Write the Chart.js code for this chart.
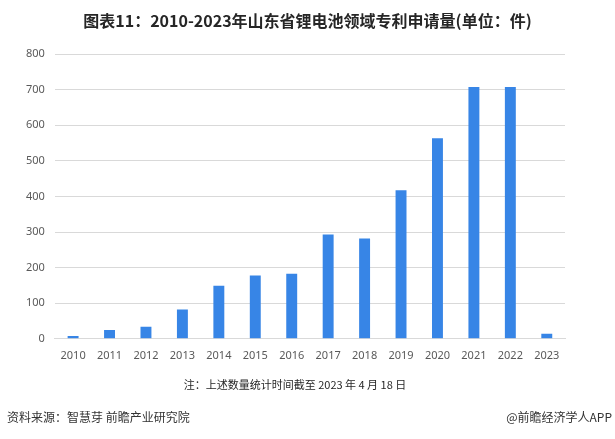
<!DOCTYPE html>
<html lang="zh">
<head>
    <meta charset="UTF-8">
    <title>山东省锂电池领域专利申请量</title>
    <script src="https://cdn.jsdelivr.net/npm/chart.js"></script>
    <style>
        body {
            margin: 0;
            background: white;
            font-family: "Noto Sans CJK SC", sans-serif;
        }
        .wrap {
            position: relative;
            width: 615px;
            height: 439px;
            overflow: hidden;
        }
        .title {
            position: absolute;
            top: 8px;
            left: 0;
            width: 615px;
            text-align: center;
            font-size: 16px;
            font-weight: bold;
            color: #262626;
        }
        .note {
            position: absolute;
            top: 376px;
            left: 0;
            width: 590px;
            text-align: center;
            font-size: 11px;
            color: #262626;
        }
        .source {
            position: absolute;
            top: 408px;
            left: 7px;
            font-size: 12px;
            color: #333;
        }
        .brand {
            position: absolute;
            top: 408px;
            right: 3px;
            font-size: 12px;
            color: #333;
        }
        #chartBox {
            position: absolute;
            top: 0;
            left: 0;
            width: 615px;
            height: 439px;
        }
    </style>
</head>
<body>
    <div class="wrap">
        <div id="chartBox"><canvas id="patentChart"></canvas></div>
        <div class="title">图表11：2010-2023年山东省锂电池领域专利申请量(单位：件)</div>
        <div class="note">注：上述数量统计时间截至 2023 年 4 月 18 日</div>
        <div class="source">资料来源：智慧芽 前瞻产业研究院</div>
        <div class="brand">@前瞻经济学人APP</div>
    </div>
    <script>
        const years = ["2010", "2011", "2012", "2013", "2014", "2015", "2016",
                       "2017", "2018", "2019", "2020", "2021", "2022", "2023"];
        const patents = [8, 25, 34, 82, 149, 178, 183, 293, 282, 417, 563, 707, 707, 14];

        new Chart(document.getElementById("patentChart"), {
            type: "bar",
            data: {
                labels: years,
                datasets: [{
                    data: patents,
                    backgroundColor: "#3785e6",
                    barPercentage: 0.3,
                    categoryPercentage: 1
                }]
            },
            options: {
                responsive: true,
                maintainAspectRatio: false,
                animation: false,
                layout: { padding: { top: 54, bottom: 75, left: 16, right: 50 } },
                plugins: { legend: { display: false }, tooltip: { enabled: false } },
                scales: {
                    x: {
                        grid: { display: false },
                        border: { color: "#d9d9d9" },
                        ticks: { color: "#595959", font: { size: 11, family: "Noto Sans" }, padding: 2 }
                    },
                    y: {
                        min: 0,
                        max: 800,
                        ticks: { stepSize: 100, color: "#595959", font: { size: 11, family: "Noto Sans" }, padding: 10 },
                        grid: { color: "#d9d9d9", drawTicks: false },
                        border: { display: false }
                    }
                }
            }
        });
    </script>
</body>
</html>
